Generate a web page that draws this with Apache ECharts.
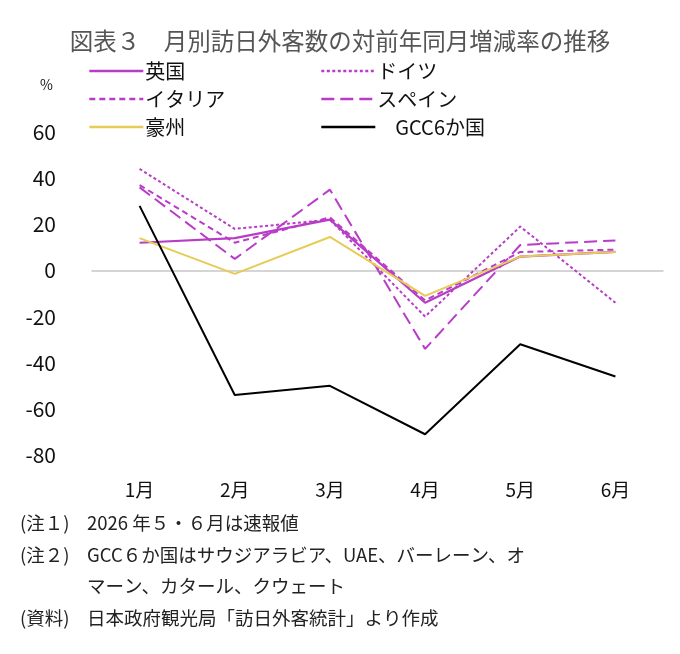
<!DOCTYPE html>
<html>
<head>
<meta charset="utf-8">
<script src="https://cdn.jsdelivr.net/npm/echarts@6/dist/echarts.min.js"></script>
<style>
  html, body { margin: 0; padding: 0; background: #fff; }
  #chart { width: 680px; height: 654px; }
</style>
</head>
<body>
<div id="chart"></div>
<script>
// 月 (横軸)
const months = ['1月', '2月', '3月', '4月', '5月', '6月'];

// 対前年同月増減率 (%)
const uk      = [12, 14, 22, -14, 6, 8];
const germany = [44, 18, 22, -20, 19, -14];
const italy   = [37, 12, 23, -13, 8, 9];
const spain   = [36, 5, 35, -34, 11, 13];
const aus     = [14, -1.5, 14.5, -11, 6, 8];
const gcc     = [28, -54, -50, -71, -32, -46];

const yMin = -80, yMax = 60, yStep = 20;

const JP = '"Noto Sans CJK JP", "Noto Sans", sans-serif';
const MAG = '#b83cc8';

const chart = echarts.init(document.getElementById('chart'));

function line(name, data, color, type, width) {
    return {
        name: name,
        type: 'line',
        data: data,
        symbol: 'none',
        silent: true,
        lineStyle: { color: color, width: width || 2, type: type },
        itemStyle: { color: color }
    };
}

// 注記テキスト
function note(x, y, text) {
    return { type: 'text', left: x, top: y, style: { text: text, fontFamily: JP, fontSize: 18.5, fill: '#222' } };
}

// 凡例は2列に分けて並べる
const legendBase = {
    orient: 'vertical',
    itemWidth: 54,
    itemHeight: 12,
    itemGap: 8,
    selectedMode: false,
    itemStyle: { opacity: 0 },
    lineStyle: { width: 2.6 },
    textStyle: { fontFamily: JP, fontSize: 20, color: '#111', padding: [0, 0, 0, -3] }
};

chart.setOption({
    animation: false,
    title: {
        text: '図表３　月別訪日外客数の対前年同月増減率の推移',
        left: 'center',
        top: 24,
        textStyle: { fontFamily: JP, fontSize: 23.5, fontWeight: 'normal', color: '#555' }
    },
    legend: [
        Object.assign({}, legendBase, { left: 83, top: 56, data: ['英国', 'イタリア', '豪州'] }),
        Object.assign({}, legendBase, {
            left: 315, top: 56, data: ['ドイツ', 'スペイン', 'GCC6か国'],
            formatter: function (n) { return n === 'GCC6か国' ? '    ' + n : n; }
        })
    ],
    grid: { left: 92, right: 17, top: 132, bottom: 199 },
    xAxis: {
        type: 'category',
        data: months,
        axisLine: { onZero: true, lineStyle: { color: '#c8c8c8', width: 1.5 } },
        axisTick: { show: false },
        axisLabel: { fontFamily: JP, fontSize: 19, color: '#111', margin: 25 }
    },
    yAxis: {
        type: 'value',
        min: yMin, max: yMax, interval: yStep,
        axisLine: { show: false },
        axisTick: { show: false },
        splitLine: { show: false },
        axisLabel: { fontFamily: JP, fontSize: 21, color: '#111', margin: 36 }
    },
    graphic: [
        { type: 'text', left: 40, top: 78, style: { text: '%', fontFamily: JP, fontSize: 14, fill: '#111' } },
        note(20, 514, '(注１)'),
        note(87, 514, '2026 年５・６月は速報値'),
        note(20, 546, '(注２)'),
        note(87, 546, 'GCC６か国はサウジアラビア、UAE、バーレーン、オ'),
        note(87, 577, 'マーン、カタール、クウェート'),
        note(20, 609, '(資料)'),
        note(87, 609, '日本政府観光局「訪日外客統計」より作成')
    ],
    series: [
        line('英国', uk, MAG, 'solid', 2.2),
        line('ドイツ', germany, MAG, [3, 2.5]),
        line('イタリア', italy, MAG, [6, 4]),
        line('スペイン', spain, MAG, [13, 6]),
        line('豪州', aus, '#e6cc55', 'solid', 2),
        line('GCC6か国', gcc, '#000', 'solid', 2)
    ]
});
</script>
</body>
</html>
